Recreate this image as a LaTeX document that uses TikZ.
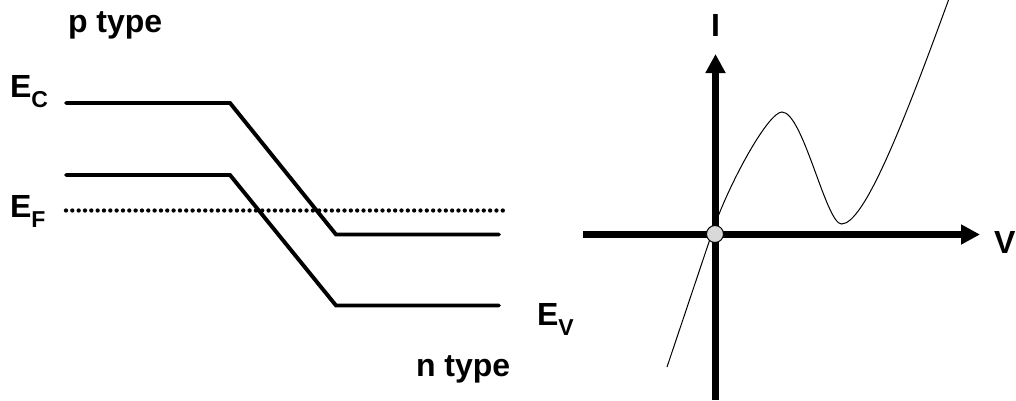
\documentclass[tikz,border=0pt]{standalone}
\usepackage{fontspec}
\setmainfont{Liberation Sans}
\usetikzlibrary{arrows.meta}
\newcommand{\bigf}{\fontsize{32}{32}\selectfont\bfseries}
\newcommand{\subf}[1]{\raisebox{-10pt}{\fontsize{23}{23}\selectfont\bfseries #1}}
\tikzset{
  lbl/.style={inner sep=0pt, outer sep=0pt, font=\bigf},
  band/.style={line width=3.9pt, line cap=round, line join=miter},
  fermi/.style={line width=4.3pt, line cap=round, dash pattern=on 0pt off 6.33pt},
  axis/.style={line width=7pt, -{Triangle[length=19pt,width=19pt]}},
  ivcurve/.style={line width=1pt},
  origin/.style={circle, draw=black, line width=1pt, fill=black!15, minimum size=17pt, inner sep=0pt}
}
\begin{document}
\begin{tikzpicture}[x=1pt,y=-1pt]
\useasboundingbox (0,0) rectangle (1016,400);
% labels
\node[lbl, anchor=base west] (ptype) at (68,32) {p type};
\node[lbl, anchor=base west] (ntype) at (416,376) {n type};
\node[lbl, anchor=base west] (ec) at (10,97) {E\subf{C}};
\node[lbl, anchor=base west] (ef) at (10,217) {E\subf{F}};
\node[lbl, anchor=base west] (ev) at (537,325) {E\subf{V}};
% band diagram
\draw[band] (66,103) -- (230,103) -- (336,234.5) -- (499,234.5);
\draw[band] (66,175) -- (230,175) -- (336,305.5) -- (499,305.5);
\draw[fermi] (66,210.5) -- (509,210.5);
% IV plot
\coordinate (xs) at (583,234.5);
\coordinate (xe) at (980,234.5);
\coordinate (ys) at (715.5,400);
\coordinate (ye) at (715.5,54);
\draw[axis] (xs) -- (xe);
\draw[axis] (ys) -- (ye);
\node[lbl, anchor=base west] (vlab) at (994,253) {V};
\node[lbl, anchor=base] (ilab) at (715.5,36) {I};
\draw[ivcurve] (667,367) -- (712,233)
  .. controls (728,185) and (768,112) .. (782,112)
  .. controls (803,112) and (826,224) .. (841.5,224)
  .. controls (864,224) and (903,125) .. (948.5,0);
\node[origin] (o) at (715,234) {};
\end{tikzpicture}
\end{document}
